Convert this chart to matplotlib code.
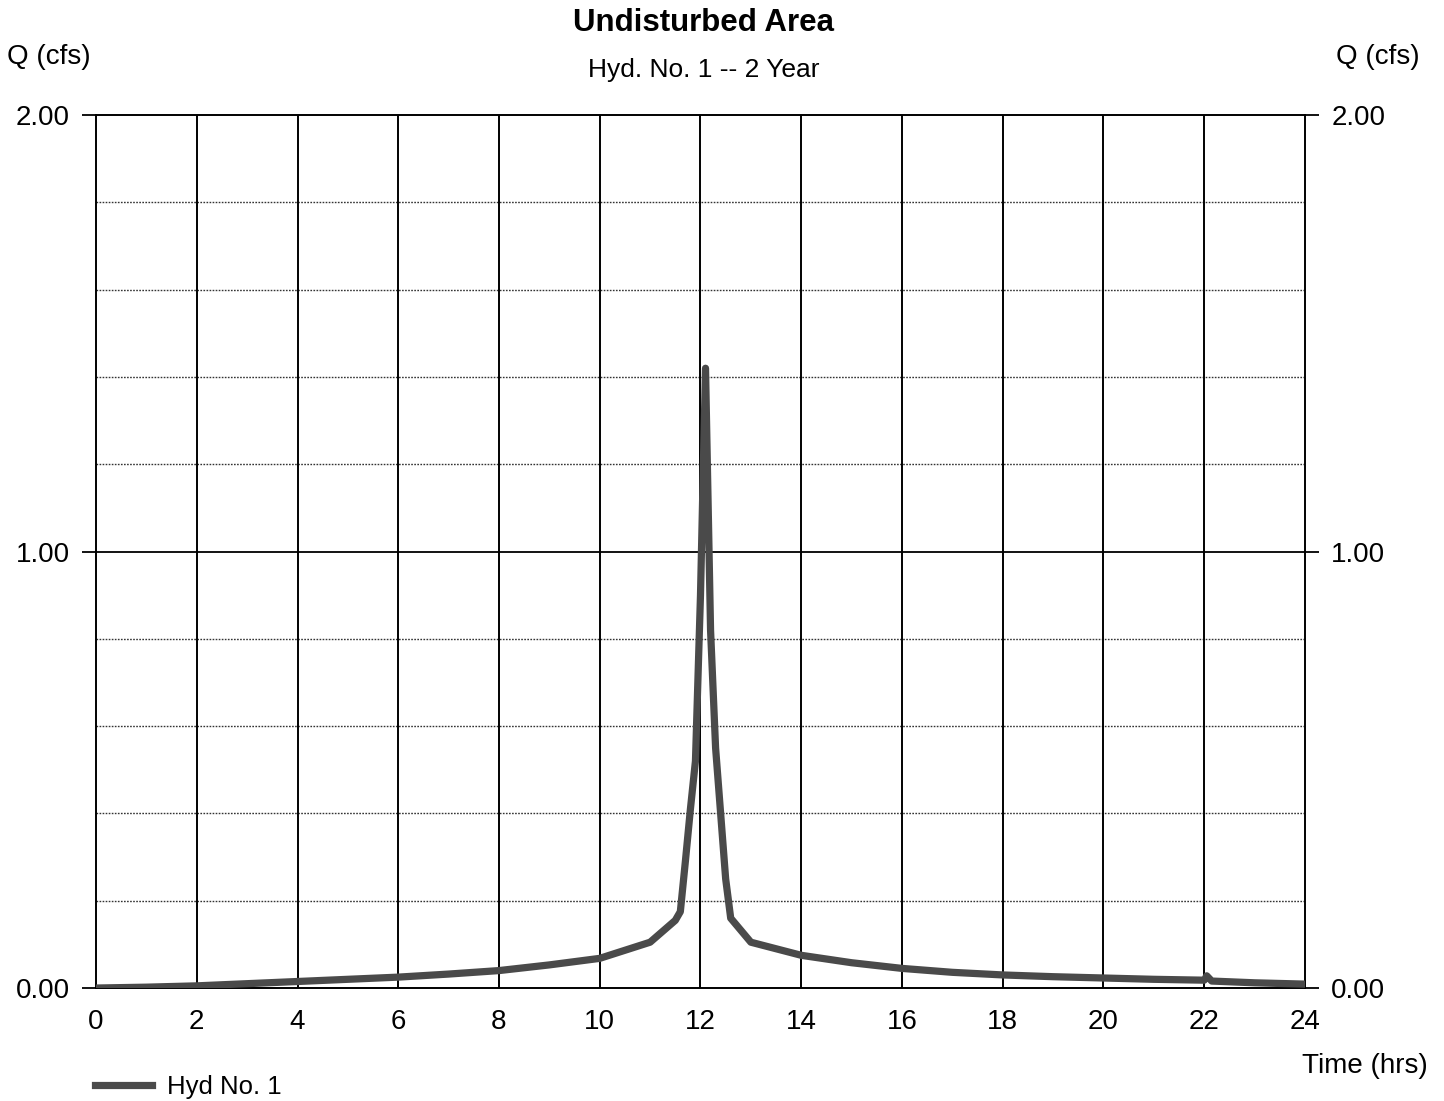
import matplotlib
matplotlib.use("Agg")
import matplotlib.pyplot as plt
import numpy as np

plt.rcParams["font.family"] = ["Liberation Sans", "DejaVu Sans"]

# Hydrograph values
time_hrs = [0, 1, 2, 3, 4, 5, 6, 7, 8, 9, 10, 11, 11.5, 11.6, 11.7, 11.8, 11.9,
            12.0, 12.1, 12.2, 12.3, 12.4, 12.5, 12.6, 13, 14, 15, 16, 17, 18,
            19, 20, 21, 22, 22.05, 22.15, 23, 24]
q_cfs = [0.0, 0.002, 0.005, 0.010, 0.015, 0.020, 0.025, 0.032, 0.040, 0.053,
         0.068, 0.105, 0.155, 0.175, 0.29, 0.41, 0.52, 0.90, 1.42, 0.82, 0.55,
         0.40, 0.25, 0.16, 0.105, 0.075, 0.058, 0.045, 0.036, 0.030, 0.026,
         0.023, 0.020, 0.018, 0.028, 0.016, 0.012, 0.009]

x_ticks = list(range(0, 25, 2))
y_ticks = [0.0, 1.0, 2.0]
y_minor = [0.2, 0.4, 0.6, 0.8, 1.2, 1.4, 1.6, 1.8]

fig = plt.figure(figsize=(14.44, 11.01), dpi=100)
ax = fig.add_axes([0.0665, 0.1026, 0.8372, 0.7929])

# grid
for yv in y_minor:
    ax.axhline(yv, color="#333333", lw=1.0, ls=(0, (1.2, 1.0)), zorder=1)
ax.axhline(1.0, color="black", lw=1.3, zorder=1)
for xv in x_ticks[1:-1]:
    ax.axvline(xv, color="black", lw=1.4, zorder=1)

line, = ax.plot(time_hrs, q_cfs, color="#4a4a4a", lw=5.2, solid_joinstyle="round",
                zorder=3)

ax.set_xlim(0, 24)
ax.set_ylim(0, 2)
ax.set_xticks(x_ticks)
ax.set_xticklabels([str(v) for v in x_ticks])
ax.set_yticks(y_ticks)
ax.set_yticklabels([f"{v:.2f}" for v in y_ticks])
ax.tick_params(axis="y", which="both", left=True, right=True, labelleft=True,
               labelright=True, direction="out", length=10, width=1.3,
               labelsize=20, pad=9)
ax.tick_params(axis="x", length=0, labelsize=20, pad=15)
for s in ax.spines.values():
    s.set_linewidth(1.4)
    s.set_color("black")

fig.text(0.4875, 0.979, "Undisturbed Area", ha="center", va="center",
         fontsize=22.5, fontweight="bold")
fig.text(0.4875, 0.936, "Hyd. No. 1 -- 2 Year", ha="center", va="center",
         fontsize=19)
fig.text(0.005, 0.948, "Q (cfs)", ha="left", va="center", fontsize=20)
fig.text(0.925, 0.948, "Q (cfs)", ha="left", va="center", fontsize=20)
fig.text(0.9885, 0.032, "Time (hrs)", ha="right", va="center", fontsize=20)

fig.legend([line], ["Hyd No. 1"], loc="center left",
           bbox_to_anchor=(0.059, 0.013), frameon=False, fontsize=18.5,
           handlelength=2.2, handletextpad=0.6, borderaxespad=0)

fig.savefig("out.png", dpi=100)
